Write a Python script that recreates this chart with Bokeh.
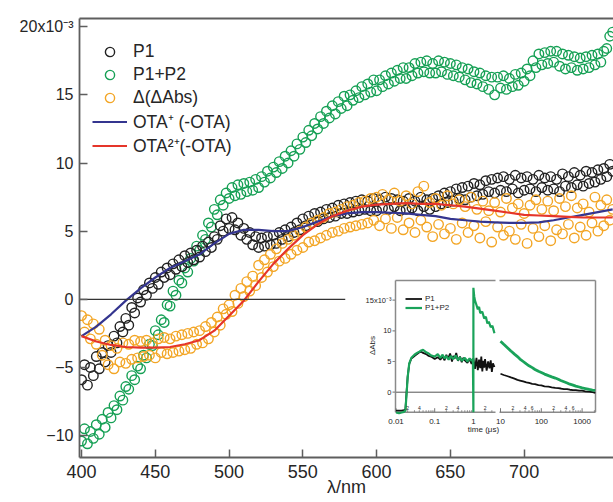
import math
from bokeh.plotting import figure
from bokeh.models import (Range1d, LinearAxis, FixedTicker, Legend, LegendItem,
                          Label, LogScale)
from bokeh.embed import file_html
from bokeh.resources import INLINE
from bokeh.core.properties import value

# ---------------- data (ΔAbs in units of 1e-3) ----------------
wavelength_nm = list(range(400, 762, 2))

p1 = [
    -5.9, -4.8, -6.3, -5.0, -5.6, -4.2, -5.1, -3.9, -4.6, -3.4,
    -3.9, -2.7, -3.2, -2.0, -2.4, -1.4, -1.9, -0.6, -1.0, 0.1,
    -0.2, 0.7, 0.3, 1.2, 0.8, 1.6, 1.1, 2.0, 1.6, 2.3,
    1.8, 2.6, 2.2, 2.9, 2.4, 3.2, 2.7, 3.4, 2.9, 3.6,
    3.1, 3.9, 3.5, 4.2, 3.8, 4.6, 4.4, 5.4, 5.0, 5.9,
    5.2, 6.0, 5.1, 5.6, 4.7, 5.2, 4.4, 4.9, 4.0, 4.6,
    3.8, 4.5, 3.9, 4.6, 4.0, 4.7, 4.1, 4.9, 4.4, 5.1,
    4.6, 5.3, 4.9, 5.6, 5.1, 5.9, 5.4, 6.1, 5.6, 6.3,
    5.7, 6.4, 5.9, 6.6, 6.0, 6.7, 6.1, 6.9, 6.3, 7.0,
    6.3, 7.1, 6.4, 7.2, 6.5, 7.3, 6.6, 7.2, 6.5, 7.4,
    6.5, 7.3, 6.7, 7.5, 6.6, 7.4, 6.8, 7.3, 6.5, 7.2,
    6.6, 7.4, 6.7, 7.2, 6.5, 7.5, 6.8, 7.3, 6.6, 7.4,
    6.8, 7.6, 7.0, 7.8, 7.1, 7.9, 7.2, 8.1, 7.4, 8.2,
    7.3, 8.3, 7.5, 8.5, 7.6, 8.4, 7.7, 8.7, 7.9, 8.8,
    7.8, 8.9, 8.0, 9.0, 7.9, 8.8, 8.1, 9.1, 7.8, 8.9,
    8.0, 9.0, 8.1, 8.8, 7.9, 9.1, 8.2, 8.9, 8.0, 9.0,
    8.1, 8.8, 7.9, 9.2, 8.3, 9.0, 8.2, 9.3, 8.4, 9.1,
    8.3, 9.4, 8.5, 9.3, 8.6, 9.5, 8.8, 9.6, 9.0, 9.9,
    9.4,
]

p1_p2 = [
    -10.4, -9.5, -10.6, -9.7, -10.2, -9.2, -9.9, -8.8, -9.4, -8.3,
    -8.7, -7.8, -8.1, -7.1, -7.4, -6.4, -6.6, -5.6, -5.9, -4.9,
    -5.1, -4.1, -4.3, -3.3, -3.4, -2.3, -2.6, -1.5, -1.7, -0.4,
    -0.5, 0.6, 0.3, 1.4, 1.2, 2.3, 2.0, 3.0, 2.8, 3.9,
    3.6, 4.7, 4.4, 5.6, 5.3, 6.6, 6.2, 7.3, 6.9, 7.8,
    7.4, 8.2, 7.6, 8.4, 7.7, 8.5, 7.9, 8.6, 8.0, 8.8,
    8.2, 9.0, 8.6, 9.4, 8.9, 9.7, 9.3, 10.1, 9.6, 10.5,
    10.0, 10.9, 10.5, 11.4, 11.0, 11.9, 11.5, 12.4, 12.0, 12.9,
    12.5, 13.4, 12.9, 13.8, 13.3, 14.2, 13.6, 14.5, 14.0, 14.9,
    14.2, 15.0, 14.6, 15.3, 14.8, 15.6, 15.0, 15.8, 15.2, 16.1,
    15.3, 16.1, 15.6, 16.4, 15.8, 16.6, 16.0, 16.8, 16.2, 17.0,
    16.2, 17.0, 16.4, 17.3, 16.6, 17.4, 16.7, 17.5, 16.6, 17.3,
    16.6, 17.5, 16.7, 17.4, 16.5, 17.3, 16.4, 17.2, 16.3, 17.0,
    16.1, 16.9, 15.9, 16.7, 15.8, 16.6, 15.6, 16.4, 15.4, 16.3,
    15.0, 16.3, 15.5, 16.4, 15.4, 16.2, 15.6, 16.5, 15.7, 16.6,
    16.0, 16.9, 16.4, 17.5, 17.0, 18.0, 17.2, 18.1, 17.3, 18.2,
    17.4, 18.2, 17.1, 18.0, 16.9, 17.9, 17.0, 17.8, 16.8, 17.7,
    16.9, 17.8, 17.0, 17.9, 17.2, 18.0, 17.4, 18.2, 18.4, 19.3,
    19.6,
]

delta_abs = [
    -1.2, -2.4, -1.5, -2.9, -1.8, -3.3, -2.2, -4.1, -3.0, -4.8,
    -3.4, -5.1, -3.6, -4.6, -3.2, -4.7, -3.3, -4.4, -3.0, -4.3,
    -3.1, -4.2, -3.0, -4.1, -3.2, -4.3, -2.9, -3.9, -2.8, -4.0,
    -2.9, -3.9, -2.7, -3.8, -2.6, -3.7, -2.5, -3.6, -2.4, -3.3,
    -2.3, -3.2, -2.0, -2.9, -1.7, -2.4, -1.3, -1.9, -0.7, -1.1,
    -0.4, -0.9, 0.3, -0.3, 0.8, 0.2, 1.3, 0.6, 1.7, 1.0,
    2.5, 1.6, 2.9, 2.0, 3.3, 2.4, 3.7, 2.8, 4.1, 3.0,
    4.4, 3.3, 4.7, 3.6, 5.0, 3.8, 5.3, 4.2, 5.6, 4.3,
    5.8, 4.5, 6.0, 4.7, 6.3, 4.9, 6.4, 5.0, 6.6, 5.2,
    6.8, 5.3, 6.9, 5.4, 7.1, 5.5, 7.2, 5.6, 7.4, 5.8,
    7.5, 5.4, 7.7, 5.9, 7.3, 5.2, 7.8, 6.0, 7.2, 5.1,
    7.6, 5.6, 7.0, 4.9, 7.9, 5.8, 8.3, 5.3, 7.1, 4.6,
    7.4, 5.5, 6.9, 4.8, 7.6, 5.2, 7.0, 4.4, 7.3, 5.6,
    6.8, 4.9, 7.5, 5.4, 6.6, 4.5, 7.2, 5.7, 6.5, 4.2,
    7.1, 5.3, 6.4, 4.7, 7.4, 5.0, 6.7, 4.4, 7.0, 5.5,
    6.3, 4.1, 6.9, 5.2, 7.3, 4.6, 6.6, 5.4, 7.2, 4.3,
    6.5, 5.1, 7.4, 4.8, 6.8, 5.5, 7.6, 4.5, 6.7, 5.3,
    7.0, 4.7, 6.4, 5.6, 7.5, 5.0, 6.9, 5.4, 7.3, 5.8,
    6.6,
]

fit_nm = list(range(400, 770, 10))
ota_plus = [
    -2.7, -2.0, -1.1, -0.1, 0.8, 1.6, 2.3, 2.8, 3.3, 4.1,
    4.8, 5.1, 5.1, 5.0, 5.0, 5.3, 5.7, 6.1, 6.3, 6.4,
    6.4, 6.35, 6.3, 6.2, 6.1, 5.9, 5.8, 5.7, 5.65, 5.6,
    5.6, 5.65, 5.8, 6.0, 6.2, 6.4, 6.6,
]
ota_2plus = [
    -2.7, -3.1, -3.35, -3.5, -3.55, -3.55, -3.5, -3.3, -3.0, -2.3,
    -1.2, -0.1, 1.3, 2.6, 3.7, 4.7, 5.5, 6.1, 6.5, 6.8,
    6.95, 7.0, 7.05, 7.0, 7.0, 6.9, 6.8, 6.65, 6.5, 6.35,
    6.2, 6.15, 6.1, 6.05, 6.0, 6.0, 6.0,
]

x_ticks = [400, 450, 500, 550, 600, 650, 700]
y_ticks = [-10, -5, 0, 5, 10, 15, 20]
y_top_label = {20: "20x10\u207b\u00b3"}

series_labels = ["P1", "P1+P2", "\u0394(\u0394Abs)",
                 "OTA\u207a (-OTA)", "OTA\u00b2\u207a(-OTA)"]

# inset: kinetics (time in microseconds, ΔAbs in 1e-3)
t_early_p1 = [0.010, 0.012, 0.014, 0.016, 0.0175, 0.019, 0.020, 0.022, 0.025, 0.03,
              0.035, 0.04, 0.045, 0.05, 0.06, 0.07, 0.08, 0.09, 0.1, 0.12,
              0.14, 0.16, 0.18, 0.2, 0.22, 0.25, 0.28, 0.3, 0.33, 0.36,
              0.4, 0.45, 0.5, 0.55, 0.6, 0.7, 0.8, 0.9, 1.0, 1.1,
              1.2, 1.3, 1.4, 1.5, 1.6, 1.7, 1.8, 1.9, 2.0, 2.2,
              2.4, 2.6, 2.8, 3.0, 3.2, 3.5]
abs_early_p1 = [-3.0, -3.0, -3.0, -2.9, -2.8, 0.5, 2.5, 4.6, 5.5, 5.9,
                6.2, 6.5, 6.6, 6.4, 6.2, 5.9, 5.8, 5.6, 5.4, 5.7,
                5.3, 5.8, 5.2, 6.1, 5.4, 6.3, 5.0, 5.9, 5.5, 6.4,
                5.1, 5.8, 4.9, 5.6, 5.2, 4.8, 5.4, 4.6, 5.5, 3.8,
                5.6, 3.6, 5.3, 3.9, 5.8, 3.4, 5.1, 4.0, 5.4, 3.5,
                5.0, 3.9, 5.2, 3.3, 4.7, 4.1]
t_early_p1p2 = [0.010, 0.012, 0.014, 0.016, 0.0175, 0.019, 0.020, 0.022, 0.025, 0.03,
                0.035, 0.04, 0.045, 0.05, 0.055, 0.06, 0.07, 0.08, 0.09, 0.1,
                0.12, 0.14, 0.16, 0.18, 0.2, 0.23, 0.26, 0.3, 0.35, 0.4,
                0.45, 0.5, 0.6, 0.7, 0.8, 0.9, 0.97, 1.0, 1.0, 1.05,
                1.1, 1.2, 1.3, 1.4, 1.5, 1.7, 1.9, 2.1, 2.3, 2.5,
                2.8, 3.1, 3.5]
abs_early_p1p2 = [-3.3, -3.4, -3.3, -3.2, -3.0, 0.2, 2.4, 4.7, 5.6, 6.1,
                  6.4, 6.6, 6.8, 6.9, 6.7, 6.5, 6.3, 6.0, 5.9, 5.8,
                  6.2, 5.6, 6.1, 5.5, 5.9, 5.3, 5.9, 5.4, 6.0, 5.2,
                  5.7, 5.1, 5.6, 5.0, 5.5, 5.1, 5.4, -3.26, 17.0, 15.6,
                  14.9, 14.2, 13.5, 13.9, 12.9, 13.1, 12.0, 12.3, 11.2, 11.5,
                  10.6, 10.8, 9.6]
t_late = [10, 12, 15, 18, 22, 26, 30, 36, 43, 50,
          60, 70, 85, 100, 120, 150, 180, 220, 260, 300,
          360, 430, 500, 600, 700, 850, 1000, 1200, 1500, 1800, 2100]
abs_late_p1 = [3.0, 2.8, 2.6, 2.4, 2.2, 2.0, 1.9, 1.75, 1.6, 1.5,
               1.35, 1.3, 1.15, 1.1, 0.95, 0.9, 0.8, 0.7, 0.65, 0.6,
               0.5, 0.5, 0.4, 0.35, 0.35, 0.25, 0.25, 0.15, 0.1, 0.0, -0.1]
abs_late_p1p2 = [8.3, 7.8, 7.2, 6.7, 6.2, 5.8, 5.4, 5.0, 4.6, 4.3,
                 4.0, 3.7, 3.4, 3.2, 2.95, 2.7, 2.5, 2.3, 2.1, 1.9,
                 1.7, 1.5, 1.3, 1.15, 1.0, 0.85, 0.7, 0.6, 0.45, 0.35, 0.3]

inset_y_ticks = [0, 5, 10, 15]
inset_y_labels = ["0", "5", "10", "15x10\u207b\u00b3"]
inset_major_early = [0.01, 0.1, 1]
inset_major_early_labels = ["0.01", "0.1", "1"]
inset_major_late = [10, 100, 1000]
inset_major_late_labels = ["10", "100", "1000"]
inset_minor_early_lab = [0.02, 0.04, 0.2, 0.4, 2]
inset_minor_early_txt = ["2", "4", "2", "4", "2"]
inset_minor_late_lab = [20, 40, 60, 200, 400, 600]
inset_minor_late_txt = ["2", "4", "6", "2", "4", "6"]

# ---------------- geometry (picture pixels) ----------------
W, H = 613, 502
FL, FR, FT, FB = 79, 613, 18, 457          # main frame edges
X400, X_PER_NM = 81.05, 1.4753             # x of 400 nm, px per nm
Y0_PX, Y_PER_UNIT = 298.8, 13.63           # y of 0, px per 1e-3
XS = 400 - (X400 - FL) / X_PER_NM
XE = 400 + (FR - X400) / X_PER_NM
YS = -(FB - Y0_PX) / Y_PER_UNIT
YE = (Y0_PX - FT) / Y_PER_UNIT

IL, IR, IT, IB = 395, 595, 280, 411.7      # inset frame
GAP_L, GAP_R = 495, 499                    # axis break
IX0, DEC1 = 395.5, 38.7                    # x of 0.01 us, px/decade
IX10, DEC2 = 500.0, 40.8                   # x of 10 us, px/decade
IY0, IY_PER = 391.7, 6.14                  # y of inset 0, px per 1e-3
BOX_L, BOX_T = 345, 277                    # white inset background


def tx_early(t):
    return IX0 + (math.log10(t) + 2) * DEC1


def tx_late(t):
    return IX10 + (math.log10(t) - 1) * DEC2


def ty(v):
    return IY0 - v * IY_PER


FONT = "Liberation Sans"
TXT = "#262626"
GRAY = "#5e5e5e"
C_P1 = "#222222"
C_P12 = "#16a055"
C_D = "#f3a626"
C_BLUE = "#34358f"
C_RED = "#e5352a"

p = figure(width=W, height=H, x_range=Range1d(XS, XE), y_range=Range1d(YS, YE),
           output_backend="svg", toolbar_location=None,
           min_border_left=FL, min_border_right=0,
           min_border_top=FT, min_border_bottom=H - FB)
p.outline_line_color = None
p.xgrid.visible = False
p.ygrid.visible = False
p.background_fill_color = "white"
p.border_fill_color = "white"

p.extra_x_ranges = {
    "px": Range1d(FL, FR),
    "t1": Range1d(10 ** (-2 - (IX0 - FL) / DEC1), 10 ** (-2 + (FR - IX0) / DEC1)),
    "t2": Range1d(10 ** (1 - (IX10 - FL) / DEC2), 10 ** (1 + (FR - IX10) / DEC2)),
}
p.extra_x_scales = {"t1": LogScale(), "t2": LogScale()}
p.extra_y_ranges = {
    "py": Range1d(FB, FT),
    "iy": Range1d(-(FB - IY0) / IY_PER, (IY0 - FT) / IY_PER),
}

# axes
yax = p.yaxis[0]
yax.ticker = FixedTicker(ticks=y_ticks)
yax.major_label_overrides = y_top_label
xax = p.xaxis[0]
xax.ticker = FixedTicker(ticks=x_ticks)
for ax in (xax, yax):
    ax.major_tick_in = 8
    ax.major_tick_out = 0
    ax.minor_tick_line_color = None
    ax.axis_line_color = GRAY
    ax.axis_line_width = 1.8
    ax.major_tick_line_color = GRAY
    ax.major_tick_line_width = 1.5
    ax.major_label_text_font = FONT
    ax.major_label_text_color = TXT
yax.major_label_text_font_size = "16px"
yax.major_label_standoff = 6
xax.major_label_text_font_size = "18px"
xax.major_label_standoff = 7
xax.axis_label = "\u03bb/nm"
xax.axis_label_text_font = FONT
xax.axis_label_text_font_size = "18px"
xax.axis_label_text_font_style = "normal"
xax.axis_label_text_color = TXT
xax.axis_label_standoff = -4

top = LinearAxis(ticker=FixedTicker(ticks=[]), axis_line_color=GRAY,
                 axis_line_width=1.8, major_tick_line_color=None,
                 minor_tick_line_color=None, major_label_text_font_size="0px")
p.add_layout(top, "above")

p.add_layout(Label(x=30, y=240, x_range_name="px", y_range_name="py",
                   text="\u0394Abs", angle=90, angle_units="deg",
                   text_align="center", text_baseline="middle",
                   text_font=FONT, text_font_size="18px", text_color=TXT))

# main data
sc = dict(marker="circle", size=9.5, fill_color=None, line_width=1.4)
r_g = p.scatter(wavelength_nm, p1_p2, line_color=C_P12, **sc)
r_k = p.scatter(wavelength_nm, p1, line_color=C_P1, **sc)
r_o = p.scatter(wavelength_nm, delta_abs, line_color=C_D, **sc)
r_b = p.line(fit_nm, ota_plus, line_color=C_BLUE, line_width=2.2)
r_r = p.line(fit_nm, ota_2plus, line_color=C_RED, line_width=2.2)

# zero line of main plot
p.line([XS, 400 + (BOX_L - X400) / X_PER_NM], [0, 0], line_color="#333333", line_width=1.3)

leg = Legend(items=[LegendItem(label=series_labels[0], renderers=[r_k]),
                    LegendItem(label=series_labels[1], renderers=[r_g]),
                    LegendItem(label=series_labels[2], renderers=[r_o]),
                    LegendItem(label=series_labels[3], renderers=[r_b]),
                    LegendItem(label=series_labels[4], renderers=[r_r])],
             location=(13, 300), padding=0, margin=0, spacing=0,
             glyph_width=35, glyph_height=23, label_height=23, label_standoff=6,
             label_text_font=FONT, label_text_font_size="17.5px",
             label_text_color=TXT, border_line_color=None,
             background_fill_alpha=0)
p.add_layout(leg)

# ---------------- inset ----------------
PXR = dict(x_range_name="px", y_range_name="py")
p.quad(left=[BOX_L], right=[FR], top=[BOX_T], bottom=[FB], fill_color="white",
       line_color=None, **PXR)
p.line([IL, IR], [ty(0), ty(0)], line_color="#555555", line_width=1.0, **PXR)
p.segment(x0=[IL, IL, GAP_R, IR, IL, GAP_R], y0=[IT, IT, IT, IT, IB, IB],
          x1=[IL, GAP_L, IR, IR, GAP_L, IR], y1=[IB, IT, IT, IB, IB, IB],
          line_color="#8a8a8a", line_width=1.5, **PXR)
p.segment(x0=[IL] * len(inset_y_ticks), x1=[IL - 3] * len(inset_y_ticks),
          y0=[ty(v) for v in inset_y_ticks], y1=[ty(v) for v in inset_y_ticks],
          line_color="#8a8a8a", line_width=1.2, **PXR)
maj_x = [tx_early(t) for t in inset_major_early] + [tx_late(t) for t in inset_major_late]
min_t_e = [m * d for d in (0.01, 0.1, 1) for m in range(2, 10) if tx_early(m * d) < GAP_L - 1]
min_t_l = [m * d for d in (10, 100, 1000) for m in range(2, 10) if tx_late(m * d) < IR - 1]
min_x = [tx_early(t) for t in min_t_e] + [tx_late(t) for t in min_t_l]
p.segment(x0=maj_x, x1=maj_x, y0=[IB] * len(maj_x), y1=[IB - 4] * len(maj_x),
          line_color="#777777", line_width=1.0, **PXR)
p.segment(x0=min_x, x1=min_x, y0=[IB] * len(min_x), y1=[IB - 2] * len(min_x),
          line_color="#777777", line_width=0.8, **PXR)

r_ik1 = p.line(t_early_p1, abs_early_p1, x_range_name="t1", y_range_name="iy",
               line_color="#111111", line_width=1.8)
r_ig1 = p.line(t_early_p1p2, abs_early_p1p2, x_range_name="t1", y_range_name="iy",
               line_color="#1aa35a", line_width=2.2)
p.line(t_late, abs_late_p1, x_range_name="t2", y_range_name="iy",
       line_color="#111111", line_width=1.8)
p.line(t_late, abs_late_p1p2, x_range_name="t2", y_range_name="iy",
       line_color="#1aa35a", line_width=2.8)

tf = dict(text_font=value(FONT), text_color=TXT)
p.text(x=[IL - 4] * len(inset_y_ticks), y=[ty(v) for v in inset_y_ticks],
       text=inset_y_labels, text_align="right", text_baseline="middle",
       text_font_size=value("7.5px"), **tf, **PXR)
p.text(x=maj_x, y=[421] * len(maj_x),
       text=inset_major_early_labels + inset_major_late_labels,
       text_align="center", text_baseline="middle",
       text_font_size=value("8px"), **tf, **PXR)
mlx = [tx_early(t) for t in inset_minor_early_lab] + [tx_late(t) for t in inset_minor_late_lab]
p.text(x=mlx, y=[407.5] * len(mlx), text=inset_minor_early_txt + inset_minor_late_txt,
       text_align="center", text_baseline="middle",
       text_font_size=value("5px"), **tf, **PXR)
p.text(x=[483], y=[429], text=["time (\u03bcs)"], text_align="center",
       text_baseline="middle", text_font_size=value("8px"), **tf, **PXR)
p.text(x=[372], y=[345], text=["\u0394Abs"], angle=[math.pi / 2],
       text_align="center", text_baseline="middle",
       text_font_size=value("8px"), **tf, **PXR)

leg2 = Legend(items=[LegendItem(label="P1", renderers=[r_ik1]),
                     LegendItem(label="P1+P2", renderers=[r_ig1])],
              location=(405 - FL, FB - 311.5), padding=0, margin=0, spacing=0,
              glyph_width=17, glyph_height=9, label_height=9, label_standoff=3,
              label_text_font=FONT, label_text_font_size="8px",
              label_text_color=TXT, border_line_color=None,
              background_fill_alpha=0)
p.add_layout(leg2)

open("out.html", "w").write(file_html(p, INLINE))
